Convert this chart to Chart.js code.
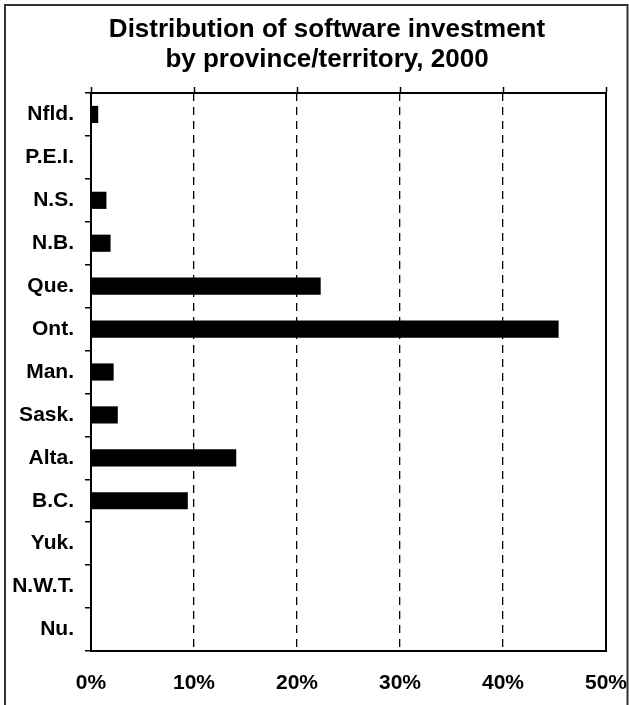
<!DOCTYPE html>
<html>
<head>
<meta charset="utf-8">
<script src="https://cdn.jsdelivr.net/npm/chart.js@4.4.1/dist/chart.umd.min.js"></script>
<style>
  html, body { margin: 0; padding: 0; background: #ffffff; }
  #wrap { position: relative; width: 629px; height: 705px; }
  canvas { display: block; }
</style>
</head>
<body>
<div id="wrap"><canvas id="c" width="629" height="705"></canvas></div>
<script>
// ---- data ----
const categories = ['Nfld.', 'P.E.I.', 'N.S.', 'N.B.', 'Que.', 'Ont.', 'Man.', 'Sask.', 'Alta.', 'B.C.', 'Yuk.', 'N.W.T.', 'Nu.'];
const shares = [0.7, 0.1, 1.5, 1.9, 22.3, 45.4, 2.2, 2.6, 14.1, 9.4, 0, 0, 0];
const axisMin = 0;
const axisMax = 50;
const axisStep = 10;
const titleLines = ['Distribution of software investment', 'by province/territory, 2000'];

const FONT = '"Liberation Sans", Arial, Helvetica, sans-serif';
Chart.defaults.font.family = FONT;
Chart.defaults.color = '#000';

const framePlugin = {
  id: 'frame',
  beforeDraw(chart) {
    const ctx = chart.ctx;
    ctx.save();
    ctx.fillStyle = '#fff';
    ctx.fillRect(0, 0, chart.width, chart.height);
    ctx.strokeStyle = '#333';
    ctx.lineWidth = 2;
    ctx.beginPath();
    ctx.moveTo(5, 720);
    ctx.lineTo(5, 5);
    ctx.lineTo(627.5, 5);
    ctx.lineTo(627.5, 720);
    ctx.stroke();
    ctx.restore();
  },
  afterDraw(chart) {
    const ctx = chart.ctx;
    ctx.save();
    ctx.fillStyle = '#000';
    ctx.font = 'bold 26px ' + FONT;
    ctx.textAlign = 'center';
    ctx.textBaseline = 'alphabetic';
    ctx.fillText(titleLines[0], 327, 36.5);
    ctx.fillText(titleLines[1], 327, 66.5);
    ctx.restore();
  }
};

function noPad(s) { s.paddingLeft = 0; s.paddingRight = 0; s.paddingTop = 0; s.paddingBottom = 0; }

new Chart(document.getElementById('c'), {
  type: 'bar',
  data: {
    labels: categories,
    datasets: [{
      data: shares,
      backgroundColor: '#000',
      borderWidth: 0,
      barPercentage: 0.4,
      categoryPercentage: 1.0
    }]
  },
  plugins: [framePlugin],
  options: {
    indexAxis: 'y',
    responsive: false,
    animation: false,
    devicePixelRatio: 1,
    layout: { padding: 0 },
    plugins: { legend: { display: false }, tooltip: { enabled: false }, title: { display: false } },
    scales: {
      x: {
        type: 'linear',
        position: 'bottom',
        min: axisMin, max: axisMax,
        afterFit(s) { s.height = 54; noPad(s); },
        ticks: {
          stepSize: axisStep,
          padding: 20,
          color: '#000',
          font: { size: 21, weight: 'bold' },
          callback: v => v + '%',
          maxRotation: 0
        },
        grid: {
          color: '#000',
          lineWidth: 1.3,
          drawTicks: false,
          drawOnChartArea: true
        },
        border: { display: true, color: '#000', width: 2, dash: [8, 6] }
      },
      x2: {
        type: 'linear',
        position: 'top',
        display: true,
        min: axisMin, max: axisMax,
        afterFit(s) { s.height = 93; noPad(s); },
        ticks: { display: false, stepSize: axisStep },
        grid: {
          drawOnChartArea: false,
          drawTicks: true,
          tickLength: 6,
          tickColor: '#000',
          tickWidth: 1.5,
          color: '#000'
        },
        border: { display: true, color: '#000', width: 2 }
      },
      y: {
        type: 'category',
        position: 'left',
        afterFit(s) { s.width = 91; noPad(s); },
        ticks: {
          padding: 11,
          color: '#000',
          font: { size: 21, weight: 'bold' }
        },
        grid: {
          drawOnChartArea: false,
          drawTicks: true,
          tickLength: 6,
          color: '#000',
          lineWidth: 1.5
        },
        border: { display: true, color: '#000', width: 2 }
      },
      y2: {
        type: 'category',
        position: 'right',
        display: true,
        afterFit(s) { s.width = 23; noPad(s); },
        ticks: { display: false },
        grid: { display: false },
        border: { display: true, color: '#000', width: 2 }
      }
    }
  }
});
</script>
</body>
</html>
